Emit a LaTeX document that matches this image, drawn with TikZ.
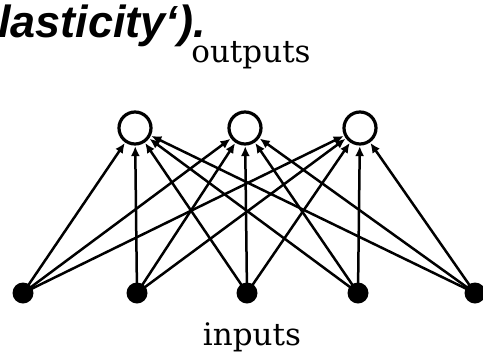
\documentclass[tikz,border=0pt]{standalone}
\usepackage{fontspec}
\newfontfamily\headfont{Liberation Sans}
\newfontfamily\lblfont{DejaVu Serif}
\usetikzlibrary{arrows.meta}
\begin{document}
\begin{tikzpicture}[x=1pt,y=-1pt,
  outnode/.style={circle,draw,line width=3.2pt,minimum size=32pt,inner sep=0pt},
  innode/.style={circle,fill,minimum size=21pt,inner sep=0pt},
  conn/.style={line width=2.5pt,-{Latex[length=10pt,width=9pt]},shorten >=0.5pt},
  lbl/.style={inner sep=0pt,font=\lblfont\fontsize{31}{36}\selectfont}]
\useasboundingbox (0,0) rectangle (483,357);
\node[inner sep=0pt,anchor=base west,font=\headfont\bfseries\itshape\fontsize{45}{50}\selectfont] (head) at (-2,37) {lasticity‘).};
\node[lbl,anchor=base] (outl) at (251,62) {outputs};
\node[lbl,anchor=base] (inl) at (252,345) {inputs};
\node[outnode] (o1) at (135,128) {};
\node[outnode] (o2) at (245,128) {};
\node[outnode] (o3) at (360,128) {};
\node[innode] (i1) at (23,293) {};
\node[innode] (i2) at (137,293) {};
\node[innode] (i3) at (247,293) {};
\node[innode] (i4) at (358,293) {};
\node[innode] (i5) at (475,293) {};
\foreach \i in {1,...,5}{
  \foreach \o in {1,2,3}{
    \draw[conn] (i\i.center) -- (o\o);
  }
}
\end{tikzpicture}
\end{document}
